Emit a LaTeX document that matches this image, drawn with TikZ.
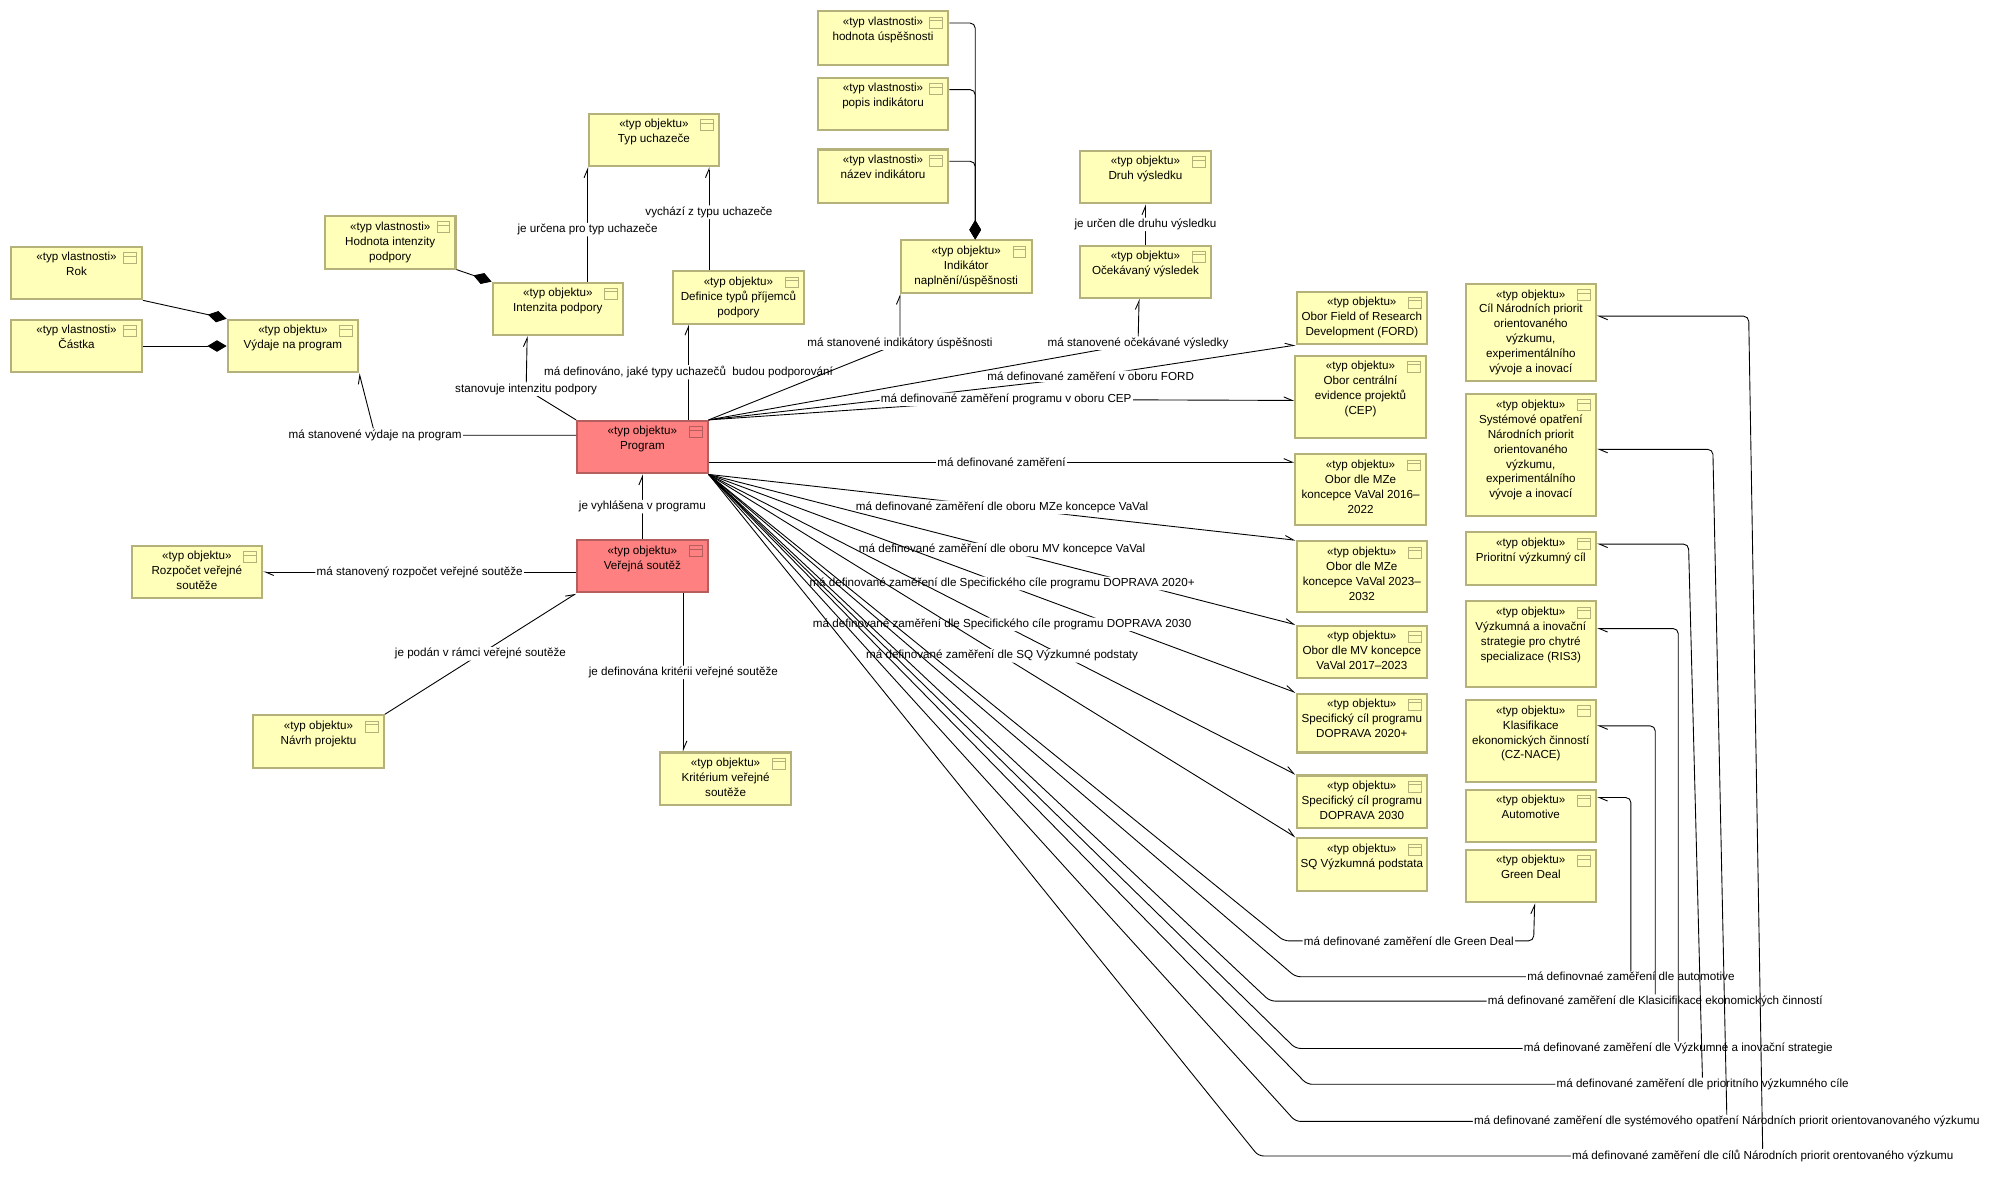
\documentclass[tikz,border=0pt]{standalone}
\usepackage{fontspec}
\setmainfont{Liberation Sans}
\usetikzlibrary{arrows.meta}

\definecolor{objfill}{HTML}{FFFFB9}
\definecolor{objline}{HTML}{B4B27A}
\definecolor{progfill}{HTML}{FF8080}
\definecolor{progline}{HTML}{B45E5E}

\begin{document}
\begin{tikzpicture}[
  x=1pt, y=-1pt,
  >={Straight Barb[left,length=6.5pt,width=5.5pt]},
  every node/.style={font=\fontsize{9.1}{11.7}\selectfont},
  obj/.style={draw=objline, line width=1.6pt, fill=objfill, anchor=north west,
    minimum width=102pt, minimum height=41pt, inner sep=0pt,
    path picture={
      \draw [line width=0.6pt] ([shift={(-14.5pt,-4.5pt)}]path picture bounding box.north east) rectangle ++(10pt,-8.5pt);
      \draw [line width=0.6pt] ([shift={(-14.5pt,-7.2pt)}]path picture bounding box.north east) -- ++(10pt,0pt);}},
  prog/.style={obj, fill=progfill, draw=progline},
  txt/.style={anchor=north, align=center, inner sep=0pt, yshift=-5pt},
  lbl/.style={fill=white, inner sep=1pt},
  conn/.style={line width=0.7pt, rounded corners=4pt},
  part/.style={line width=0.7pt, rounded corners=4pt, -{Diamond[length=15pt,width=9pt]}}
  ]
\useasboundingbox (0,0) rectangle (1567,925);
% vlastnosti indikatoru
\node [obj, minimum height=42pt, label={[txt]north:{«typ vlastnosti»\\hodnota úspěšnosti}}] (hod) at (638,8) {};
\node [obj, label={[txt]north:{«typ vlastnosti»\\popis indikátoru}}] (pop) at (638,60) {};
\node [obj, minimum height=42pt, label={[txt]north:{«typ vlastnosti»\\název indikátoru}}] (naz) at (638,116) {};
% leva cast
\node [obj, label={[txt]north:{«typ objektu»\\Typ uchazeče}}] (typ) at (459,88) {};
\node [obj, label={[txt]north:{«typ vlastnosti»\\Hodnota intenzity\\podpory}}] (hin) at (253,168) {};
\node [obj, label={[txt]north:{«typ vlastnosti»\\Rok}}] (rok) at (8,192) {};
\node [obj, label={[txt]north:{«typ vlastnosti»\\Částka}}] (cas) at (8,249) {};
\node [obj, label={[txt]north:{«typ objektu»\\Výdaje na program}}] (vyd) at (177,249) {};
\node [obj, label={[txt]north:{«typ objektu»\\Intenzita podpory}}] (int) at (384,220) {};
\node [obj, label={[txt]north:{«typ objektu»\\Definice typů příjemců\\podpory}}] (def) at (525,211) {};
\node [obj, label={[txt]north:{«typ objektu»\\Indikátor\\naplnění/úspěšnosti}}] (ind) at (703,187) {};
\node [obj, label={[txt]north:{«typ objektu»\\Druh výsledku}}] (dru) at (843,117) {};
\node [obj, label={[txt]north:{«typ objektu»\\Očekávaný výsledek}}] (oce) at (843,191) {};
\node [prog, label={[txt]north:{«typ objektu»\\Program}}] (prg) at (450,328) {};
\node [prog, label={[txt]north:{«typ objektu»\\Veřejná soutěž}}] (ver) at (450,421) {};
\node [obj, label={[txt]north:{«typ objektu»\\Rozpočet veřejné\\soutěže}}] (roz) at (102,425.5) {};
\node [obj, label={[txt]north:{«typ objektu»\\Návrh projektu}}] (nav) at (197,558) {};
\node [obj, label={[txt]north:{«typ objektu»\\Kritérium veřejné\\soutěže}}] (kri) at (515,587) {};
% obory
\node [obj, label={[txt]north:{«typ objektu»\\Obor Field of Research\\Development (FORD)}}] (ford) at (1012,227) {};
\node [obj, minimum height=64pt, label={[txt]north:{«typ objektu»\\Obor centrální\\evidence projektů\\(CEP)}}] (cep) at (1011,277) {};
\node [obj, minimum height=55pt, label={[txt]north:{«typ objektu»\\Obor dle MZe\\koncepce VaVal 2016–\\2022}}] (mze1) at (1011,354) {};
\node [obj, minimum height=55pt, label={[txt]north:{«typ objektu»\\Obor dle MZe\\koncepce VaVal 2023–\\2032}}] (mze2) at (1012,422) {};
\node [obj, label={[txt]north:{«typ objektu»\\Obor dle MV koncepce\\VaVal 2017–2023}}] (mv) at (1012,488) {};
\node [obj, minimum height=46pt, label={[txt]north:{«typ objektu»\\Specifický cíl programu\\DOPRAVA 2020+}}] (dop1) at (1012,541) {};
\node [obj, label={[txt]north:{«typ objektu»\\Specifický cíl programu\\DOPRAVA 2030}}] (dop2) at (1012,605) {};
\node [obj, label={[txt]north:{«typ objektu»\\SQ Výzkumná podstata}}] (sq) at (1012,654) {};
% priority a strategie
\node [obj, minimum height=76pt, label={[txt]north:{«typ objektu»\\Cíl Národních priorit\\orientovaného\\výzkumu,\\experimentálního\\vývoje a inovací}}] (cil) at (1144,221) {};
\node [obj, minimum height=95pt, label={[txt]north:{«typ objektu»\\Systémové opatření\\Národních priorit\\orientovaného\\výzkumu,\\experimentálního\\vývoje a inovací}}] (sys) at (1144,307) {};
\node [obj, label={[txt]north:{«typ objektu»\\Prioritní výzkumný cíl}}] (pri) at (1144,415) {};
\node [obj, minimum height=67pt, label={[txt]north:{«typ objektu»\\Výzkumná a inovační\\strategie pro chytré\\specializace (RIS3)}}] (ris) at (1144,469) {};
\node [obj, minimum height=64pt, label={[txt]north:{«typ objektu»\\Klasifikace\\ekonomických činností\\(CZ-NACE)}}] (nace) at (1144,546) {};
\node [obj, label={[txt]north:{«typ objektu»\\Automotive}}] (aut) at (1144,616) {};
\node [obj, label={[txt]north:{«typ objektu»\\Green Deal}}] (gd) at (1144,663) {};

% skladby
\draw [part] (rok.south east) -- (vyd.north west);
\draw [part] (cas.east) -- (vyd.west);
\draw [part] (hin.south east) -- (int.north west);
\draw [part] ([yshift=-10pt]hod.north east) -| ([xshift=7pt]ind.north);
\draw [part] ([yshift=-10pt]pop.north east) -| ([xshift=7pt]ind.north);
\draw [part] ([yshift=-10pt]naz.north east) -| ([xshift=7pt]ind.north);

% vazby nahoru a doleva
\draw [conn, ->] ([yshift=-12pt]prg.north west) -- (293,340) node [lbl] {má stanovené výdaje na program} -- (vyd.south east);
\draw [conn, ->] (prg.north west) -- (411,304) node [lbl] {stanovuje intenzitu podpory} -- ([xshift=-24pt]int.south);
\draw [conn, ->] ([xshift=36pt]prg.north) -- ([xshift=-39pt]def.south) node [lbl, midway] {má definováno, jaké typy uchazečů~ budou podporování};
\draw [conn, ->] (int.north -| typ.south west) -- (typ.south west) node [lbl, midway, yshift=-4pt] {je určena pro typ uchazeče};
\draw [conn, ->] ([xshift=-23pt]def.north) -- ([xshift=43pt]typ.south) node [lbl, midway, yshift=5pt] {vychází z typu uchazeče};
\draw [conn, ->] (prg.north east) -- (703,268) node [lbl] {má stanovené indikátory úspěšnosti} -- (ind.south west);
\draw [conn, ->] (prg.north east) -- (889,268) node [lbl] {má stanovené očekávané výsledky} -- ([xshift=-5pt]oce.south);
\draw [conn, ->] (oce.north) -- (dru.south) node [lbl, midway] {je určen dle druhu výsledku};
\draw [conn, ->] (prg.north east) -- (852,294) node [lbl] {má definované zaměření v oboru FORD} -- (ford.south west);
\draw [conn, ->] (prg.north east) -- (786,312) node [lbl] {má definované zaměření programu v oboru CEP} -- ([yshift=-3pt]cep.west);
\draw [conn, ->] ([yshift=-33pt]prg.north east) -- ([yshift=-7pt]mze1.north west) node [lbl, midway] {má definované zaměření};

% vazby doprava dolu
\draw [conn, ->] (prg.south east) -- (mze2.north west) node [lbl, midway] {má definované zaměření dle oboru MZe koncepce VaVal};
\draw [conn, ->] (prg.south east) -- (mv.north west) node [lbl, midway] {má definované zaměření dle oboru MV koncepce VaVal};
\draw [conn, ->] (prg.south east) -- (dop1.north west) node [lbl, midway] {má definované zaměření dle Specifického cíle programu DOPRAVA 2020+};
\draw [conn, ->] (prg.south east) -- (dop2.north west) node [lbl, midway] {má definované zaměření dle Specifického cíle programu DOPRAVA 2030};
\draw [conn, ->] (prg.south east) -- (sq.north west) node [lbl, midway] {má definované zaměření dle SQ Výzkumné podstaty};
\draw [conn, ->] (prg.south east) -- (1003,735) -- (1198,735) node [lbl, midway] {má definované zaměření dle Green Deal} -- ([xshift=3pt]gd.south);
\draw [conn, ->] (prg.south east) -- (1012,763) -- (1274,763) node [lbl] {má definovnaé zaměření dle automotive} |- ([yshift=-7pt]aut.north east);
\draw [conn, ->] (prg.south east) -- (992,782) -- (1293,782) node [lbl] {má definované zaměření dle Klasicifikace ekonomických činností} |- ([yshift=-21pt]nace.north east);
\draw [conn, ->] (prg.south east) -- (1012,819) -- (1311,819) node [lbl] {má definované zaměření dle Výzkumné a inovační strategie} |- ([yshift=-22pt]ris.north east);
\draw [conn, ->] (prg.south east) -- (1021,847) -- (1330,847) node [lbl] {má definované zaměření dle prioritního výzkumného cíle} -- (1319,425) -- ([yshift=-10pt]pri.north east);
\draw [conn, ->] (prg.south east) -- (1012,876) -- (1349,876) node [lbl] {má definované zaměření dle systémového opatření Národních priorit orientovanovaného výzkumu} -- (1338,351) -- ([yshift=-44pt]sys.north east);
\draw [conn, ->] (prg.south east) -- (983,903) -- (1377,903) node [lbl] {má definované zaměření dle cílů Národních priorit orentovaného výzkumu} -- (1366,247) -- ([yshift=-26pt]cil.north east);

% verejna soutez
\draw [conn, ->] (ver.north) -- (prg.south) node [lbl, midway] {je vyhlášena v programu};
\draw [conn, ->] ([yshift=-4.5pt]ver.west) -- (roz.east) node [lbl, midway] {má stanovený rozpočet veřejné soutěže};
\draw [conn, ->] (nav.north east) -- (ver.south west) node [lbl, midway] {je podán v rámci veřejné soutěže};
\draw [conn, ->] ([xshift=32pt]ver.south) -- ([xshift=-33pt]kri.north) node [lbl, midway] {je definována kritérii veřejné soutěže};
\end{tikzpicture}
\end{document}
